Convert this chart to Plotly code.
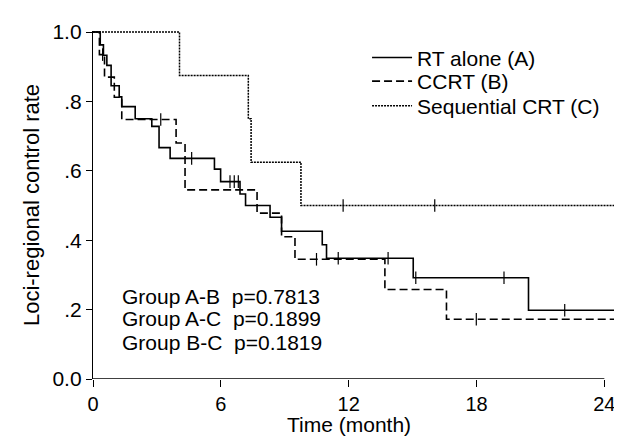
import numpy as np
import plotly.graph_objects as go

# ---- data (months, loci-regional control rate) ----
months_a = [0, 0.34, 0.49, 0.65, 0.85, 1.23, 1.35, 1.98, 2.76, 3.1, 3.62, 5.7, 5.99,
            6.9, 7.16, 8.31, 8.85, 10.76, 10.96, 15.03, 20.44, 24.48]
rate_a = [1.0, 0.963, 0.933, 0.904, 0.845, 0.813, 0.785, 0.75, 0.728, 0.667, 0.636, 0.605,
          0.569, 0.533, 0.5, 0.466, 0.426, 0.387, 0.348, 0.292, 0.198, 0.198]
censor_a = [4.63, 6.43, 6.63, 6.82, 11.51, 13.85, 15.15, 19.29, 22.14]

months_b = [0, 0.3, 0.54, 1.0, 1.35, 3.9, 4.32, 7.7, 8.85, 9.48, 13.7, 16.59, 24.48]
rate_b = [1.0, 0.935, 0.87, 0.812, 0.748, 0.68, 0.545, 0.478, 0.41, 0.345, 0.258, 0.172, 0.172]
censor_b = [0.45, 3.18, 10.49, 17.99]

months_c = [0, 4.06, 7.29, 7.42, 9.76, 24.48]
rate_c = [1.0, 0.875, 0.75, 0.625, 0.5, 0.5]
censor_c = [11.74, 16.04]

names = ["RT alone (A)", "CCRT (B)", "Sequential CRT (C)"]
dashes = ["solid", "8px,4px", "2px,1px"]
widths = [1.6, 1.6, 1.5]

x_ticks = [0, 6, 12, 18, 24]
y_ticks = [0, 0.2, 0.4, 0.6, 0.8, 1.0]
y_tick_text = ["0.0", ".2", ".4", ".6", ".8", "1.0"]

p_labels = ["Group A-B\u00a0\u00a0p=0.7813",
            "Group A-C\u00a0\u00a0p=0.1899",
            "Group B-C\u00a0\u00a0p=0.1819"]


def step_value(times, rates, t):
    times = np.asarray(times)
    rates = np.asarray(rates)
    idx = np.searchsorted(times, t, side="right") - 1
    return rates[idx]


FONT = "Liberation Sans, Arial, Helvetica, sans-serif"
fig = go.Figure()

legend_ids = ["legend", "legend2", "legend3"]
groups = [(months_a, rate_a, censor_a), (months_b, rate_b, censor_b), (months_c, rate_c, censor_c)]
for (t, r, c), name, dash, w, lg in zip(groups, names, dashes, widths, legend_ids):
    fig.add_trace(go.Scatter(
        x=t, y=r, mode="lines", name=name, line_shape="hv", legend=lg,
        line=dict(color="black", width=w, dash=dash),
    ))
for (t, r, c), w in zip(groups, widths):
    fig.add_trace(go.Scatter(
        x=c, y=step_value(t, r, c), mode="markers", showlegend=False,
        marker=dict(symbol="line-ns", size=9, color="black",
                    line=dict(color="black", width=1.2)),
        cliponaxis=False, hoverinfo="skip",
    ))

for i, txt in enumerate(p_labels):
    fig.add_annotation(
        text=txt, xref="paper", yref="paper", x=0.052, y=[0.2365, 0.173, 0.105][i],
        xanchor="left", yanchor="middle", showarrow=False,
        font=dict(family=FONT, size=21, color="black"),
    )

# x-axis title centred on the 0-24 axis
fig.add_annotation(text="Time (month)", xref="x", yref="paper", x=12, y=-0.13,
                   xanchor="center", yanchor="middle", showarrow=False,
                   font=dict(family=FONT, size=21, color="black"))

# x-axis base line ending at the last tick
fig.add_shape(type="line", xref="x", yref="y", x0=x_ticks[0], x1=x_ticks[-1], y0=0, y1=0,
              line=dict(color="black", width=1.3))

leg_common = dict(xanchor="left", yanchor="middle", bgcolor="rgba(0,0,0,0)",
                  font=dict(family=FONT, size=21, color="black"), itemwidth=40)
fig.update_layout(
    width=622, height=437,
    margin=dict(l=84.5, r=15, t=19, b=66),
    paper_bgcolor="white", plot_bgcolor="white",
    font=dict(family=FONT, size=21, color="black"),
    showlegend=True,
    legend=dict(x=0.525, y=0.923, **leg_common),
    legend2=dict(x=0.525, y=0.855, **leg_common),
    legend3=dict(x=0.525, y=0.784, **leg_common),
    xaxis=dict(range=[0, 24.5], tickmode="array", tickvals=x_ticks,
               ticks="outside", ticklen=7, tickwidth=1.3, tickcolor="black",
               showline=False, showgrid=False, zeroline=False,
               tickfont=dict(family=FONT, size=20, color="black")),
    yaxis=dict(range=[0, 1.003], tickmode="array", tickvals=y_ticks, ticktext=y_tick_text,
               ticks="outside", ticklen=6, tickwidth=1.3, tickcolor="black",
               showline=True, linecolor="black", linewidth=1.3,
               showgrid=False, zeroline=False,
               tickfont=dict(family=FONT, size=21, color="black"),
               title=dict(text="Loci-regional control rate",
                          font=dict(family=FONT, size=22, color="black"), standoff=6)),
)

fig.write_html("out.html")
